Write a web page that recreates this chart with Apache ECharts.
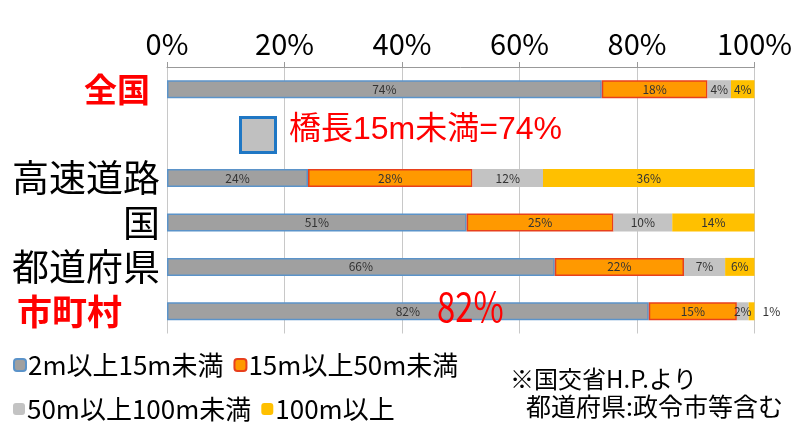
<!DOCTYPE html>
<html>
<head>
<meta charset="utf-8">
<script src="https://cdn.jsdelivr.net/npm/echarts@6/dist/echarts.min.js"></script>
<style>html,body{margin:0;padding:0;background:#fff;}#c{width:795px;height:423px;}</style>
</head>
<body>
<div id="c"></div>
<script>
const categories = ['全国', '', '高速道路', '国', '都道府県', '市町村'];
const seriesNames = ['2m以上15m未満', '15m以上50m未満', '50m以上100m未満', '100m以上'];
const s1 = [74, '-', 24, 51, 66, 82];
const s2 = [18, '-', 28, 25, 22, 15];
const s3 = [4, '-', 12, 10, 7, 2];
const s4 = [4, '-', 36, 14, 6, 1];
const xTicks = [0, 20, 40, 60, 80, 100];

const CJK = "'Noto Sans CJK JP', sans-serif";
const NARROW = "'Liberation Sans Narrow', 'Noto Sans CJK JP', sans-serif";

const chart = echarts.init(document.getElementById('c'), null, {renderer: 'canvas'});

function mk(name, data, color, border) {
  return {
    name: name,
    type: 'bar',
    stack: 'total',
    barWidth: 18,
    data: data,
    itemStyle: {color: color, borderColor: border || color, borderWidth: border ? 1.5 : 0},
    label: {
      show: true, position: 'inside', color: '#333', fontSize: 12,
      fontFamily: NARROW, formatter: p => p.value + '%'
    }
  };
}

const s4data = s4.map((v, i) => (i === 5 ? {value: v, label: {position: 'right', distance: 8}} : v));

chart.setOption({
  animation: false,
  grid: {left: 167, width: 593, top: 67, height: 266.5},
  xAxis: {
    type: 'value', position: 'top', min: 0, max: 100, interval: 20,
    axisLine: {show: true, lineStyle: {color: '#999'}},
    axisTick: {show: true, length: 5, lineStyle: {color: '#999'}},
    splitLine: {show: true, lineStyle: {color: '#c8c8c8'}},
    axisLabel: {
      color: '#000', fontSize: 29, fontFamily: NARROW, margin: 9,
      formatter: v => v + '%'
    }
  },
  yAxis: {
    type: 'category', inverse: true, data: categories,
    axisLine: {show: false}, axisTick: {show: false},
    axisLabel: {
      margin: 7,
      formatter: (v, i) => {
        if (v === '全国') return '{r|' + v + '}';
        if (v === '市町村') return '{m|' + v + '}';
        if (v === '') return '';
        return '{k|' + v + '}';
      },
      rich: {
        r: {color: '#ff0000', fontWeight: 'bold', fontSize: 33, fontFamily: CJK, padding: [0, 10, 0, 0]},
        m: {color: '#ff0000', fontWeight: 'bold', fontSize: 35, fontFamily: CJK, padding: [0, 38, 0, 0]},
        k: {color: '#000', fontSize: 37, fontFamily: CJK}
      }
    }
  },
  legend: [
    {
      data: [seriesNames[0], seriesNames[1]], left: 8, top: 347, itemWidth: 12, itemHeight: 12,
      itemGap: 10, textStyle: {fontSize: 26, fontFamily: NARROW, color: '#000', padding: [0, 0, 0, -3]}
    },
    {
      data: [seriesNames[2], seriesNames[3]], left: 8, top: 391, itemWidth: 12, itemHeight: 12,
      itemGap: 10, textStyle: {fontSize: 26, fontFamily: NARROW, color: '#000', padding: [0, 0, 0, -3]}
    }
  ],
  series: [
    mk(seriesNames[0], s1, '#a0a0a0', '#5b93c9'),
    mk(seriesNames[1], s2, '#ff9900', '#e8401c'),
    mk(seriesNames[2], s3, '#c3c3c3', null),
    mk(seriesNames[3], s4data, '#ffc000', null)
  ],
  graphic: [
    {type: 'rect', z: 100, left: 239, top: 116, shape: {width: 35, height: 35}, style: {fill: '#c0c0c0', stroke: '#1f77c4', lineWidth: 3}},
    {type: 'text', z: 100, left: 289, top: 114, style: {text: '橋長15m未満=74%', fill: '#ff0000', fontSize: 32, fontFamily: "'Liberation Sans', 'Noto Sans CJK JP', sans-serif"}},
    {type: 'text', z: 100, x: 437, y: 286, scaleX: 0.8, style: {text: '82%', fill: '#ff0000', fontSize: 41, fontFamily: NARROW}},
    {type: 'text', z: 100, left: 510, top: 367, style: {text: '※国交省H.P.より', fill: '#000', fontSize: 24, fontFamily: NARROW}},
    {type: 'text', z: 100, left: 526, top: 394, style: {text: '都道府県:政令市等含む', fill: '#000', fontSize: 25, fontFamily: NARROW}}
  ]
});
</script>
</body>
</html>
